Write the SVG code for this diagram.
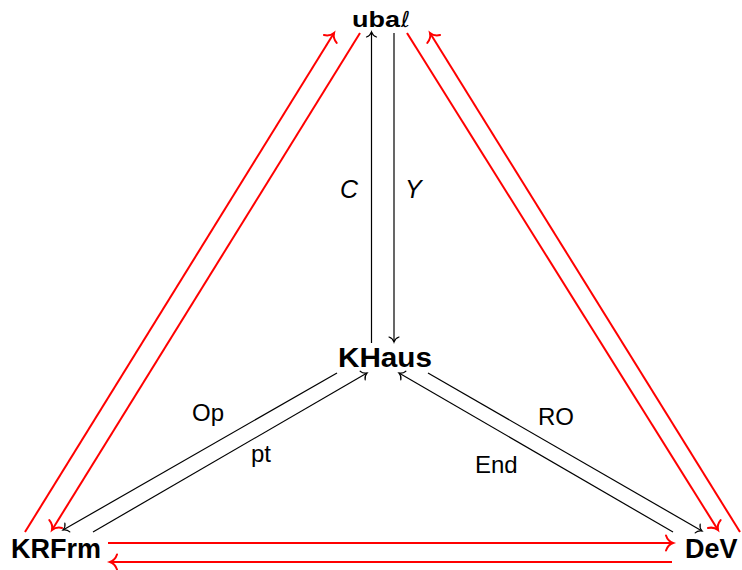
<svg xmlns="http://www.w3.org/2000/svg" width="742" height="570" viewBox="0 0 742 570">
<style>
.node{font-family:"Liberation Sans",Arial,sans-serif;font-weight:bold;font-size:27px;fill:#000}
.lbl{font-family:"Liberation Sans",Arial,sans-serif;font-size:24px;fill:#000}
.it{font-style:italic}
.blk{stroke:#000;stroke-width:1.2;fill:none}
.red{stroke:#ff0000;stroke-width:2;fill:none}
</style>
<defs>
<marker id="ab" markerUnits="userSpaceOnUse" markerWidth="14" markerHeight="14" viewBox="-7 -7 14 14" refX="0" refY="0" orient="auto" overflow="visible">
<path d="M -5,-5 C -4,-2 -1.5,-0.5 0,0 C -1.5,0.5 -4,2 -5,5" stroke="#000" stroke-width="1.2" fill="none" stroke-linecap="round"/>
</marker>
<marker id="ar" markerUnits="userSpaceOnUse" markerWidth="20" markerHeight="20" viewBox="-10 -10 20 20" refX="0" refY="0" orient="auto" overflow="visible">
<path d="M -7,-7.5 C -5.5,-3 -2,-0.7 0,0 C -2,0.7 -5.5,3 -7,7.5" stroke="#ff0000" stroke-width="2" fill="none" stroke-linecap="round"/>
</marker>
</defs>
<g id="connectors">
<line class="blk" x1="371.5" y1="343" x2="371.5" y2="32" marker-end="url(#ab)"/>
<line class="blk" x1="394" y1="33" x2="394" y2="342" marker-end="url(#ab)"/>
<line class="blk" x1="337" y1="373" x2="63" y2="530" marker-end="url(#ab)"/>
<line class="blk" x1="93" y1="532" x2="367" y2="373" marker-end="url(#ab)"/>
<line class="blk" x1="673" y1="532" x2="399" y2="373" marker-end="url(#ab)"/>
<line class="blk" x1="428" y1="373" x2="702" y2="531" marker-end="url(#ab)"/>
<line class="red" x1="25" y1="532" x2="334" y2="33" marker-end="url(#ar)"/>
<line class="red" x1="360" y1="33" x2="52" y2="530" marker-end="url(#ar)"/>
<line class="red" x1="407" y1="33" x2="718" y2="530" marker-end="url(#ar)"/>
<line class="red" x1="740" y1="532" x2="430" y2="33" marker-end="url(#ar)"/>
<line class="red" x1="108" y1="543" x2="673" y2="543" marker-end="url(#ar)"/>
<line class="red" x1="672" y1="562" x2="110" y2="562" marker-end="url(#ar)"/>
<text class="lbl it" x="340" y="198" style="font-size:25px">C</text>
<text class="lbl it" x="405" y="198" style="font-size:25px">Y</text>
<text class="lbl" x="192" y="421">Op</text>
<text class="lbl" x="251" y="462">pt</text>
<text class="lbl" x="538" y="425">RO</text>
<text class="lbl" x="475" y="473">End</text>
</g>
<g id="ubal">
<text class="node" x="352" y="27" style="font-size:22px" textLength="48" lengthAdjust="spacingAndGlyphs">uba</text>
<text x="401" y="27" style="font-family:'DejaVu Sans','Liberation Sans',sans-serif;font-style:italic;font-size:22px;fill:#000">ℓ</text>
</g>
<g id="KHaus">
<text class="node" x="338" y="367" textLength="94" lengthAdjust="spacingAndGlyphs">KHaus</text>
</g>
<g id="KRFrm">
<text class="node" x="11" y="558">KRFrm</text>
</g>
<g id="DeV">
<text class="node" x="685" y="558">DeV</text>
</g>
</svg>
